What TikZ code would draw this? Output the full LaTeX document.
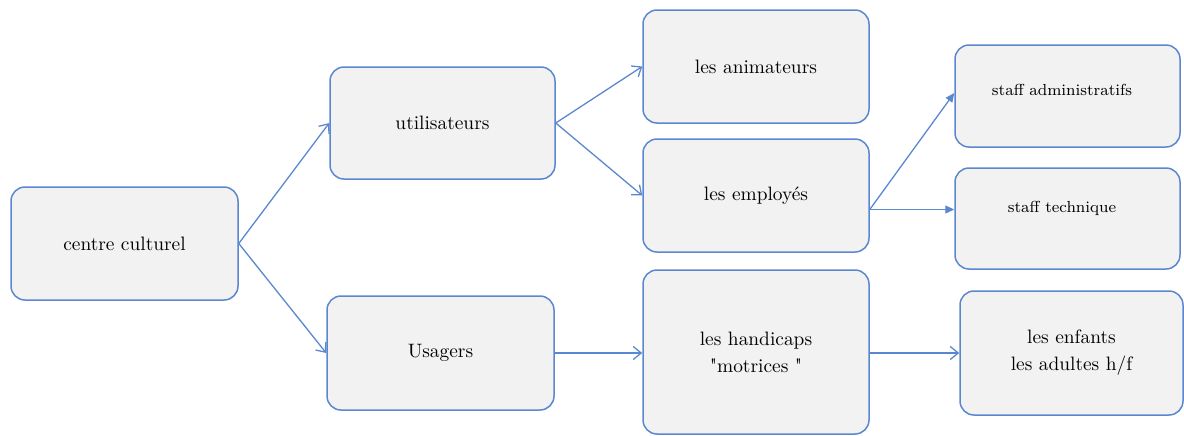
\documentclass[tikz,border=0pt]{standalone}
\usepackage{fontspec}
% same face without the TeX quote mapping, for straight double quotes
\newfontfamily\quotefont{lmroman10-regular.otf}
\newcommand{\sq}{{\quotefont"}}
\usetikzlibrary{arrows.meta}
\definecolor{edgeblue}{HTML}{5B87D0}
\definecolor{boxfill}{HTML}{F2F2F2}
\begin{document}
\begin{tikzpicture}[x=0.5pt,y=-0.5pt,
  box/.style={draw=edgeblue, fill=boxfill, line width=0.75pt, rounded corners=7pt,
    align=center, inner sep=0pt, font=\fontsize{9.7}{13.5}\selectfont},
  smalltext/.style={font=\fontsize{8}{10}\selectfont},
  link/.style={draw=edgeblue, line width=0.65pt, -{Straight Barb[length=4pt,width=6.5pt]}},
  solidlink/.style={draw=edgeblue, line width=0.65pt, -{Triangle[length=4.5pt,width=4pt]}}]
\useasboundingbox (0,0) rectangle (1184,435);

% first level
\node[box, minimum width=113.5pt, minimum height=56.5pt] (cc) at (124.5,243.5) {centre culturel};

% second level
\node[box, minimum width=112.5pt, minimum height=56pt] (util) at (442.5,123) {utilisateurs};
\node[box, minimum width=113.5pt, minimum height=57pt] (usagers) at (440.5,353) {Usagers};

% third level
\node[box, minimum width=113pt, minimum height=56.5pt] (anim) at (756,66.5) {les animateurs};
\node[box, minimum width=113pt, minimum height=56.5pt] (empl) at (756,195.5) {les employés};
\node[box, minimum width=113pt, minimum height=82pt] (hand) at (756,352) {les handicaps\\\sq motrices \sq};

% fourth level
\node[box, minimum width=112.5pt, minimum height=51pt,
  label={[smalltext, xshift=-2.75pt, yshift=3pt]center:staff administratifs}] (admin) at (1067.5,96) {};
\node[box, minimum width=112.5pt, minimum height=50.5pt,
  label={[smalltext, xshift=-2.75pt, yshift=5pt]center:staff technique}] (tech) at (1067.5,218.5) {};
\node[box, minimum width=111.5pt, minimum height=62pt] (enf) at (1071.5,353) {les enfants\\les adultes h/f};

% connectors
\draw[link] (cc.east) -- (util.west);
\draw[link] (cc.east) -- (usagers.west);
\draw[link] (util.east) -- (anim.west);
\draw[link] (util.east) -- (empl.west);
\coordinate (eout) at ([yshift=-7pt]empl.east);
\draw[solidlink] (eout) -- ([yshift=1.5pt]admin.west);
\draw[solidlink] (eout) -- (eout -| tech.west);
\draw[link] (usagers.east) -- (hand.west |- usagers.east);
\draw[link] (hand.east |- enf.west) -- (enf.west);
\end{tikzpicture}
\end{document}
